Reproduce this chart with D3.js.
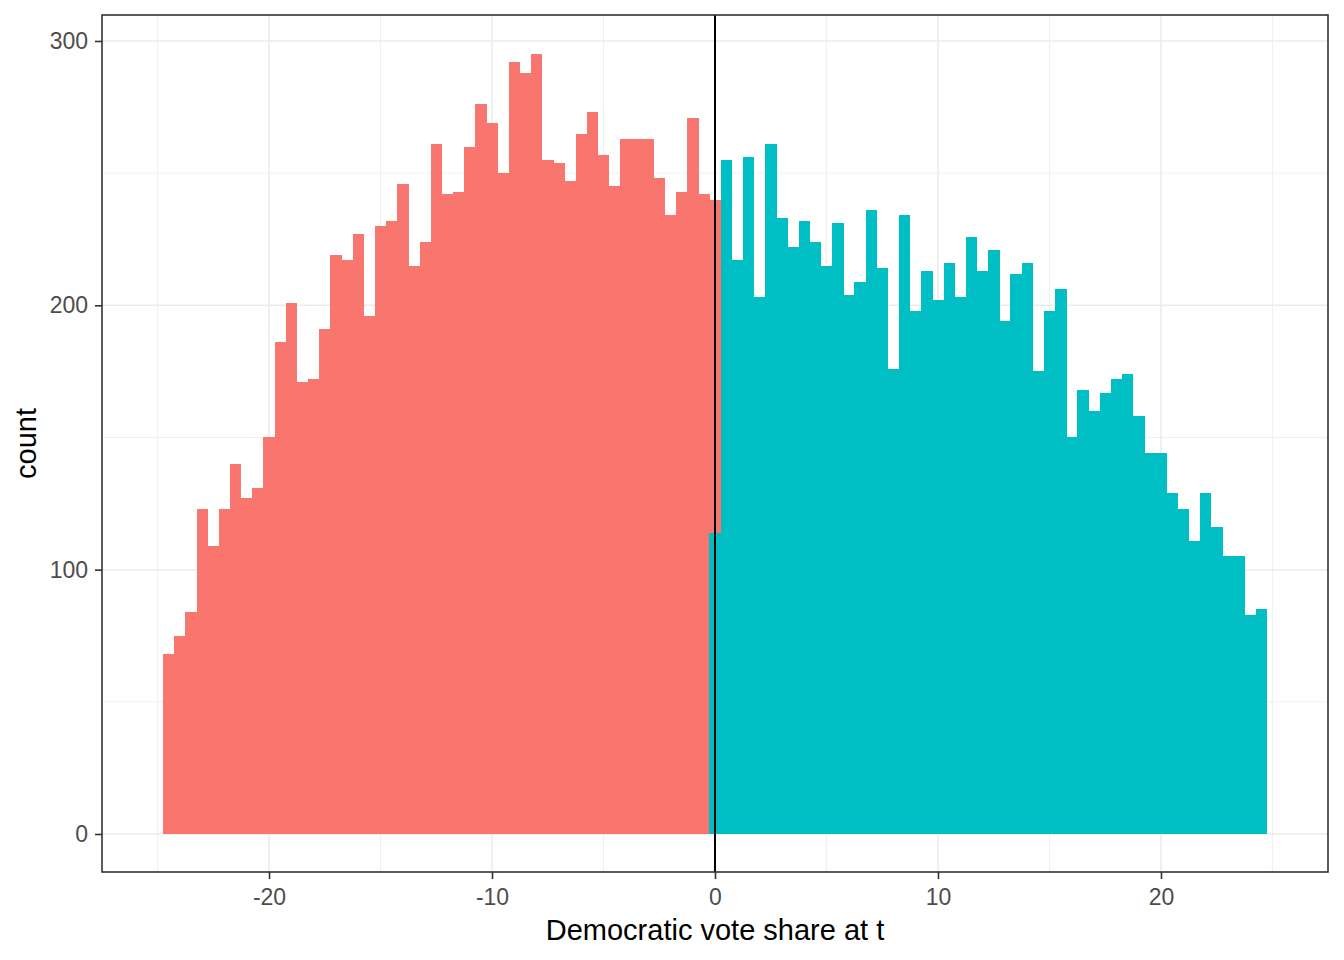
<!DOCTYPE html>
<html>
<head>
<meta charset="utf-8">
<script src="https://cdn.jsdelivr.net/npm/d3@7/dist/d3.min.js"></script>
<style>
  html, body { margin: 0; padding: 0; background: #fff; }
  svg { display: block; font-family: "Liberation Sans", Arial, sans-serif; }
</style>
</head>
<body>
<svg id="chart" width="1344" height="960"></svg>
<script>
// ---- data ----
const binWidth = 0.5;
// bins centred at -24.5 ... -0.5 (negative side, red)
const redCenters = d3.range(-24.5, -0.25, 0.5);
const redCounts = [68,75,84,123,109,123,140,127,131,150,
  186,201,171,172,191,219,217,227,196,230,
  232,246,215,224,261,242,243,260,276,269,
  250,292,288,295,255,254,247,265,273,257,
  245,263,263,263,248,234,243,271,242];
// bin centred at 0 holds both groups (stacked: teal below, red above)
const zeroBinTeal = 114;
const zeroBinRed = 126;
// bins centred at 0.5 ... 24.5 (positive side, teal)
const tealCenters = d3.range(0.5, 24.75, 0.5);
const tealCounts = [255,217,256,203,261,233,222,232,224,215,
  231,204,209,236,214,176,234,198,213,202,
  216,203,226,213,221,194,212,216,175,198,
  206,150,168,160,167,172,174,158,144,144,
  129,123,111,129,116,105,105,83,85];
const xTicks = [-20, -10, 0, 10, 20];
const xMinor = [-25, -15, -5, 5, 15, 25];
const yTicks = [0, 100, 200, 300];
const yMinor = [50, 150, 250];
const xTitle = "Democratic vote share at t";
const yTitle = "count";

// ---- layout ----
const panel = {left: 102, right: 1328, top: 15, bottom: 872};
const red = "#F8766D", teal = "#00BFC4";

const x = d3.scaleLinear().domain([-27.49, 27.49]).range([panel.left, panel.right]);
const y = d3.scaleLinear().domain([-14.38, 309.83]).range([panel.bottom, panel.top]);

const svg = d3.select("#chart");

// minor grid
const g = svg.append("g");
g.selectAll(".xminor").data(xMinor).join("line")
  .attr("x1", d => x(d)).attr("x2", d => x(d))
  .attr("y1", panel.top).attr("y2", panel.bottom)
  .attr("stroke", "#EBEBEB").attr("stroke-width", 0.8);
g.selectAll(".yminor").data(yMinor).join("line")
  .attr("y1", d => y(d)).attr("y2", d => y(d))
  .attr("x1", panel.left).attr("x2", panel.right)
  .attr("stroke", "#EBEBEB").attr("stroke-width", 0.8);
// major grid
g.selectAll(".xmajor").data(xTicks).join("line")
  .attr("x1", d => x(d)).attr("x2", d => x(d))
  .attr("y1", panel.top).attr("y2", panel.bottom)
  .attr("stroke", "#EBEBEB").attr("stroke-width", 1.5);
g.selectAll(".ymajor").data(yTicks).join("line")
  .attr("y1", d => y(d)).attr("y2", d => y(d))
  .attr("x1", panel.left).attr("x2", panel.right)
  .attr("stroke", "#EBEBEB").attr("stroke-width", 1.5);

// bars
const bars = svg.append("g").attr("shape-rendering", "crispEdges");
const redData = redCenters.map((c, i) => ({c, y0: 0, y1: redCounts[i]}));
redData.push({c: 0, y0: zeroBinTeal, y1: zeroBinTeal + zeroBinRed});
const tealData = tealCenters.map((c, i) => ({c, y0: 0, y1: tealCounts[i]}));
tealData.unshift({c: 0, y0: 0, y1: zeroBinTeal});

bars.selectAll(".red").data(redData).join("rect")
  .attr("x", d => x(d.c - binWidth / 2))
  .attr("width", d => x(d.c + binWidth / 2) - x(d.c - binWidth / 2) + 0.3)
  .attr("y", d => y(d.y1))
  .attr("height", d => y(d.y0) - y(d.y1))
  .attr("fill", red);
bars.selectAll(".teal").data(tealData).join("rect")
  .attr("x", d => x(d.c - binWidth / 2))
  .attr("width", d => x(d.c + binWidth / 2) - x(d.c - binWidth / 2) + 0.3)
  .attr("y", d => y(d.y1))
  .attr("height", d => y(d.y0) - y(d.y1))
  .attr("fill", teal);

// vertical line at 0
svg.append("line")
  .attr("x1", x(0)).attr("x2", x(0))
  .attr("y1", panel.top).attr("y2", panel.bottom)
  .attr("stroke", "#000").attr("stroke-width", 2);

// panel border
svg.append("rect")
  .attr("x", panel.left).attr("y", panel.top)
  .attr("width", panel.right - panel.left).attr("height", panel.bottom - panel.top)
  .attr("fill", "none").attr("stroke", "#333333").attr("stroke-width", 1.6);

// axes
const xAxis = d3.axisBottom(x).tickValues(xTicks).tickSize(7).tickPadding(10)
  .tickFormat(d3.format("d"));
const gx = svg.append("g").attr("transform", `translate(0,${panel.bottom})`).call(xAxis);
gx.select(".domain").remove();
gx.selectAll(".tick line").attr("stroke", "#333333").attr("stroke-width", 1.6);
gx.selectAll(".tick text").attr("fill", "#4D4D4D").attr("font-size", 23)
  .attr("font-family", "Liberation Sans, Arial, sans-serif").text(d => d < 0 ? "-" + Math.abs(d) : d);

const yAxis = d3.axisLeft(y).tickValues(yTicks).tickSize(7).tickPadding(7)
  .tickFormat(d3.format("d"));
const gy = svg.append("g").attr("transform", `translate(${panel.left},0)`).call(yAxis);
gy.select(".domain").remove();
gy.selectAll(".tick line").attr("stroke", "#333333").attr("stroke-width", 1.6);
gy.selectAll(".tick text").attr("fill", "#4D4D4D").attr("font-size", 23)
  .attr("font-family", "Liberation Sans, Arial, sans-serif");

// titles
svg.append("text")
  .attr("x", (panel.left + panel.right) / 2).attr("y", 940)
  .attr("text-anchor", "middle").attr("font-size", 29).attr("fill", "#000")
  .text(xTitle);
svg.append("text")
  .attr("transform", `translate(36,${(panel.top + panel.bottom) / 2}) rotate(-90)`)
  .attr("text-anchor", "middle").attr("font-size", 29).attr("fill", "#000")
  .text(yTitle);
</script>
</body>
</html>
